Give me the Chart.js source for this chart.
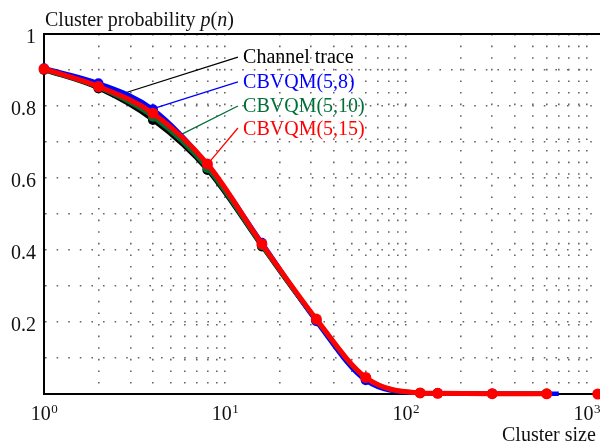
<!DOCTYPE html>
<html>
<head>
<meta charset="utf-8">
<script src="https://cdn.jsdelivr.net/npm/chart.js@4/dist/chart.umd.min.js"></script>
<style>
    html, body { margin: 0; padding: 0; background: #fff; overflow: hidden; }
    #moldura { width: 600px; height: 443px; overflow: hidden; position: relative; }
    #moldura canvas { position: absolute; left: 0; top: 0; }
</style>
</head>
<body>
<div id="moldura"><canvas id="grafico" width="640" height="443"></canvas></div>
<script>
// cluster sizes n (x) and probabilities p(n) (y)
const clusterSizes = [1, 2, 4, 8, 16, 32, 60, 120, 150, 300, 600];
const redSizes = [1, 2, 4, 8, 16, 32, 60, 120, 150, 300, 600, 1150];
const blueSizes = [1, 2, 4, 8, 16, 32, 60, 120, 150, 300, 700];
const channelTrace = [0.900, 0.849, 0.761, 0.622, 0.410, 0.204, 0.044, 0.003, 0.002, 0.001, 0.0005];
const cbvqm58 = [0.905, 0.863, 0.791, 0.636, 0.420, 0.202, 0.038, 0.003, 0.002, 0.001, 0.0005];
const cbvqm510 = [0.902, 0.852, 0.770, 0.628, 0.413, 0.206, 0.045, 0.003, 0.002, 0.001, 0.0005];
const cbvqm515 = [0.903, 0.854, 0.780, 0.639, 0.417, 0.208, 0.046, 0.003, 0.002, 0.001, 0.0005, 0];

const xTickValues = [1, 10, 100, 1000];
const xTickExponents = ['0', '1', '2', '3'];
const yTickValues = [0.2, 0.4, 0.6, 0.8, 1];
const yTickLabels = ['0.2', '0.4', '0.6', '0.8', '1'];

// curve labels: text anchor, leader start and leader end (on the curve), in data units
const labelTexts = ['Channel trace', 'CBVQM(5,8)', 'CBVQM(5,10)', 'CBVQM(5,15)'];
const labelColors = ['#000000', '#0000ff', '#007038', '#ff0000'];
const labelAt = [[12.6, 0.919], [12.6, 0.85], [12.6, 0.783], [12.6, 0.719]];
const leaderFrom = [[11.8, 0.936], [11.8, 0.867], [11.8, 0.80], [11.8, 0.739]];
const leaderTo = [[2.38, 0.825], [4.1, 0.794], [5.64, 0.719], [8.2, 0.644]];

const serif = "'Liberation Serif', 'Times New Roman', serif";

function pontos(xs, ys) {
    return ys.map((y, i) => ({ x: xs[i], y: y }));
}

// grid at 1..9 of every decade
const gridValues = [];
for (let d = 0; d <= 3; d++) {
    for (let m = 1; m <= 9; m++) gridValues.push(m * Math.pow(10, d));
}

const textosPlugin = {
    id: 'textos',
    beforeDatasetsDraw(chart) {
        const ctx = chart.ctx;
        const sx = chart.scales.x, sy = chart.scales.y;
        ctx.save();
        ctx.lineWidth = 1.3;
        labelTexts.forEach((t, i) => {
            ctx.strokeStyle = labelColors[i];
            ctx.beginPath();
            ctx.moveTo(sx.getPixelForValue(leaderFrom[i][0]), sy.getPixelForValue(leaderFrom[i][1]));
            ctx.lineTo(sx.getPixelForValue(leaderTo[i][0]), sy.getPixelForValue(leaderTo[i][1]));
            ctx.stroke();
        });
        ctx.restore();
    },
    afterDraw(chart) {
        const ctx = chart.ctx;
        const area = chart.chartArea;
        const sx = chart.scales.x, sy = chart.scales.y;
        ctx.save();

        // top frame line
        ctx.strokeStyle = '#000';
        ctx.lineWidth = 2;
        ctx.beginPath();
        ctx.moveTo(area.left, area.top);
        ctx.lineTo(area.right, area.top);
        ctx.lineTo(area.right, area.bottom);
        ctx.stroke();

        ctx.fillStyle = '#111';
        ctx.textBaseline = 'alphabetic';

        // y tick labels
        ctx.font = '20px ' + serif;
        ctx.textAlign = 'right';
        yTickValues.forEach((v, i) => {
            ctx.fillText(yTickLabels[i], area.left - 8, sy.getPixelForValue(v) + 9);
        });

        // x tick labels 10^k
        xTickValues.forEach((v, i) => {
            const x = sx.getPixelForValue(v);
            ctx.font = '20px ' + serif;
            const wBase = ctx.measureText('10').width;
            ctx.font = '13px ' + serif;
            const wExp = ctx.measureText(xTickExponents[i]).width;
            const x0 = x - (wBase + wExp) / 2;
            ctx.textAlign = 'left';
            ctx.font = '20px ' + serif;
            ctx.fillText('10', x0, area.bottom + 26);
            ctx.font = '13px ' + serif;
            ctx.fillText(xTickExponents[i], x0 + wBase + 0.5, area.bottom + 19);
        });

        // axis titles
        ctx.textAlign = 'left';
        let x = area.left + 1;
        const partes = [['Cluster probability ', false], ['p', true], ['(', false], ['n', true], [')', false]];
        partes.forEach(([t, it]) => {
            ctx.font = (it ? 'italic ' : '') + '20px ' + serif;
            ctx.fillText(t, x, 26);
            x += ctx.measureText(t).width;
        });
        ctx.font = '20px ' + serif;
        ctx.fillText('Cluster size', 502, 441);

        // curve labels
        labelTexts.forEach((t, i) => {
            ctx.fillStyle = labelColors[i];
            ctx.fillText(t, sx.getPixelForValue(labelAt[i][0]), sy.getPixelForValue(labelAt[i][1]));
        });
        ctx.restore();
    }
};

const ctx = document.getElementById('grafico').getContext('2d');

const grafico = new Chart(ctx, {
    type: 'line',
    data: {
        datasets: [
            {
                label: 'CBVQM(5,15)',
                data: pontos(redSizes, cbvqm515),
                borderColor: '#ff0000',
                backgroundColor: '#ff0000',
                borderWidth: 5,
                pointRadius: 5.5,
                pointBorderWidth: 0,
                segment: {
                    borderColor: c => c.p0.parsed.x >= 600 ? 'rgba(0,0,0,0)' : undefined
                }
            },
            {
                label: 'CBVQM(5,10)',
                data: pontos(clusterSizes, cbvqm510),
                borderColor: '#007038',
                backgroundColor: '#007038',
                borderWidth: 4.5,
                pointRadius: 5,
                pointBorderWidth: 0
            },
            {
                label: 'CBVQM(5,8)',
                data: pontos(blueSizes, cbvqm58),
                borderColor: '#0000ff',
                backgroundColor: '#0000ff',
                borderWidth: 4.5,
                pointRadius: c => (c.raw && c.raw.x > 600) ? 0 : 5,
                pointBorderWidth: 0
            },
            {
                label: 'Channel trace',
                data: pontos(clusterSizes, channelTrace),
                borderColor: '#000000',
                backgroundColor: '#000000',
                borderWidth: 4,
                pointRadius: 5,
                pointBorderWidth: 0
            }
        ]
    },
    options: {
        responsive: false,
        animation: false,
        layout: { padding: { left: 44, top: 34, bottom: 49, right: 17 } },
        elements: {
            line: { cubicInterpolationMode: 'monotone', fill: false },
            point: { hoverRadius: 5 }
        },
        datasets: { line: { clip: false } },
        plugins: {
            legend: { display: false },
            tooltip: { enabled: false }
        },
        scales: {
            x: {
                type: 'logarithmic',
                min: 1,
                max: 1585,
                ticks: { display: false, autoSkip: false },
                grid: { color: '#666', lineWidth: 1.6, drawTicks: false },
                border: { color: '#000', width: 2, dash: [1.6, 10] },
                afterBuildTicks: s => { s.ticks = gridValues.map(v => ({ value: v })); },
                afterFit: s => { s.height = 0; }
            },
            y: {
                min: 0,
                max: 1,
                ticks: { display: false, stepSize: 0.1 },
                grid: { color: '#666', lineWidth: 1.6, drawTicks: false },
                border: { color: '#000', width: 2, dash: [1.6, 10] },
                afterFit: s => { s.width = 0; }
            }
        }
    },
    plugins: [textosPlugin]
});
</script>
</body>
</html>
